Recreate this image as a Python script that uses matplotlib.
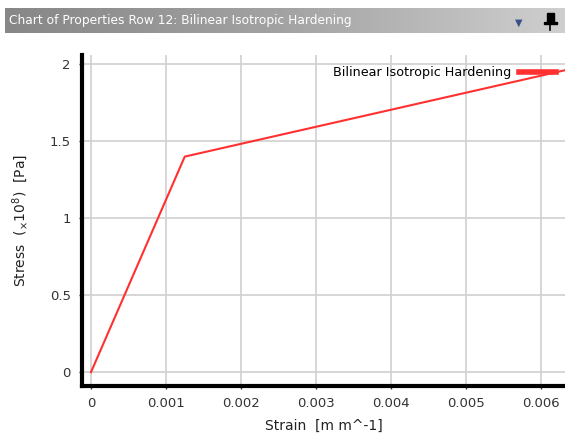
import numpy as np
import matplotlib
matplotlib.use("Agg")
import matplotlib.pyplot as plt
from matplotlib.patches import Rectangle

# bilinear isotropic hardening curve (stress in 1e8 Pa)
strain = [0.0, 0.00125, 0.0064]
stress = [0.0, 1.40, 1.97]

xticks = [0, 0.001, 0.002, 0.003, 0.004, 0.005, 0.006]
xtick_labels = ["0", "0.001", "0.002", "0.003", "0.004", "0.005", "0.006"]
yticks = [0, 0.5, 1, 1.5, 2]
ytick_labels = ["0", "0.5", "1", "1.5", "2"]

W, H = 565, 438
fig = plt.figure(figsize=(W / 100, H / 100), dpi=100)
fig.patch.set_facecolor("white")

# title bar with grey gradient
bar = fig.add_axes([5 / W, 1 - 33 / H, 560 / W, 25 / H])
grad = np.linspace(0, 1, 256).reshape(1, -1)
bar.imshow(grad, aspect="auto", cmap=matplotlib.colors.LinearSegmentedColormap.from_list(
    "g", ["#878787", "#a3a3a3", "#cfcfcf"]), extent=[0, 1, 0, 1])
bar.set_xlim(0, 1)
bar.set_ylim(0, 1)
bar.axis("off")
bar.text(0.008, 0.5, "Chart of Properties Row 12: Bilinear Isotropic Hardening",
         color="white", fontsize=8.8, va="center", ha="left", family="DejaVu Sans")
bar.text(0.917, 0.42, "\u25BC", color="#3a4f8a", fontsize=7, va="center", ha="center")
bar.add_patch(Rectangle((0.968, 0.42), 0.012, 0.38, color="black"))
bar.add_patch(Rectangle((0.962, 0.38), 0.024, 0.07, color="black"))
bar.plot([0.974, 0.974], [0.12, 0.4], color="black", lw=1.2)

ax = fig.add_axes([82 / W, 1 - 386 / H, (W - 82) / W, (386 - 55) / H])
ax.plot(strain, stress, color="#ff3030", lw=1.5, label="Bilinear Isotropic Hardening")

ax.set_xlim(-0.00012, 0.00632)
ax.set_ylim(-0.09, 2.06)
ax.set_xticks(xticks)
ax.set_xticklabels(xtick_labels)
ax.set_yticks(yticks)
ax.set_yticklabels(ytick_labels)
ax.grid(True, color="#d0d0d0", lw=1.2)
ax.set_axisbelow(True)

for side in ["top", "right"]:
    ax.spines[side].set_visible(False)
for side in ["left", "bottom"]:
    ax.spines[side].set_linewidth(3)
    ax.spines[side].set_color("black")

ax.tick_params(axis="both", labelsize=9.5, colors="#333333", length=2, width=1, pad=6)
ax.set_xlabel("Strain  [m m^-1]", fontsize=10, color="#222222", labelpad=6)
ax.set_ylabel(r"Stress  ($_{\times}$10$^{8}$)  [Pa]", fontsize=10, color="#222222", labelpad=14)

leg = ax.legend(loc="upper right", frameon=False, fontsize=9.2, handlelength=2.9,
                markerfirst=False, bbox_to_anchor=(0.995, 0.985), borderaxespad=0.1,
                handletextpad=0.6)
for line in leg.get_lines():
    line.set_linewidth(4)

fig.savefig("out.png", dpi=100)
